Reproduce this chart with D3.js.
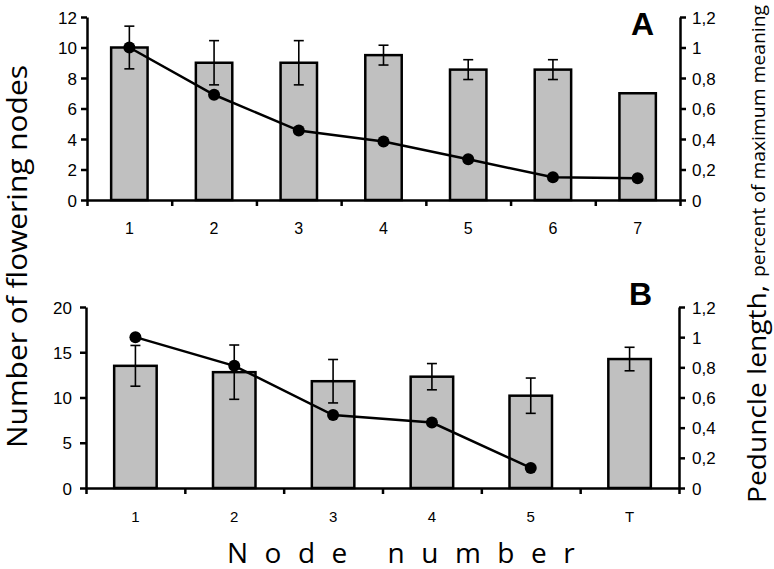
<!DOCTYPE html>
<html>
<head>
<meta charset="utf-8">
<style>
    body { margin: 0; background: #fff; }
    svg { display: block; }
    .tick text { font-family: "Liberation Sans", Arial, sans-serif; }
</style>
</head>
<body>
<svg width="774" height="569"></svg>
<script src="https://d3js.org/d3.v7.min.js"></script>
<script>
    // panel A
    let nodesA = ["1", "2", "3", "4", "5", "6", "7"];
    let barsA = [10.0, 9.0, 9.0, 9.5, 8.55, 8.55, 7.0];
    let errA = [1.4, 1.45, 1.45, 0.65, 0.65, 0.65, null];
    let lineA = [1.0, 0.69, 0.455, 0.383, 0.267, 0.149, 0.142];
    let leftTicksA = [0, 2, 4, 6, 8, 10, 12];

    // panel B
    let nodesB = ["1", "2", "3", "4", "5", "T"];
    let barsB = [13.5, 12.8, 11.8, 12.3, 10.2, 14.25];
    let errB = [2.25, 3.0, 2.4, 1.45, 1.95, 1.3];
    let lineB = [1.0, 0.81, 0.484, 0.434, 0.133];
    let leftTicksB = [0, 5, 10, 15, 20];

    let rightTicks = [0, 0.2, 0.4, 0.6, 0.8, 1, 1.2];

    let svg = d3.select("svg");
    let comma = d3.formatLocale({ decimal: ",", thousands: " ", grouping: [3], currency: ["", ""] }).format("~g");

    function panel(opt) {
        let g = svg.append("g");
        let n = opt.nodes.length;

        let x = d3.scaleBand().domain(opt.nodes).range([opt.x0, opt.x1]);
        let xi = d3.scaleLinear().domain([0, n]).range([opt.x0, opt.x1]);
        let y = d3.scaleLinear().domain([0, opt.ymax]).range([opt.y0, opt.y1]);
        let y2 = d3.scaleLinear().domain([0, 1.2]).range([opt.y0, opt.y1]);
        let bw = x.bandwidth() * 0.43;

        // bars
        g.selectAll(".bar")
            .data(opt.bars)
            .join("rect")
            .attr("x", (d, i) => x(opt.nodes[i]) + (x.bandwidth() - bw) / 2)
            .attr("y", d => y(d))
            .attr("width", bw)
            .attr("height", d => opt.y0 - y(d))
            .style("fill", "#c0c0c0")
            .style("stroke", "#000")
            .style("stroke-width", 2.5);

        // error bars
        let eb = opt.bars.map((d, i) => ({ i: i, v: d, e: opt.err[i] })).filter(d => d.e != null);
        let cx = d => x(opt.nodes[d.i]) + x.bandwidth() / 2;
        let eg = g.selectAll(".err").data(eb).join("g");
        eg.append("line")
            .attr("x1", cx).attr("x2", cx)
            .attr("y1", d => y(d.v + d.e)).attr("y2", d => y(d.v - d.e));
        eg.append("line")
            .attr("x1", d => cx(d) - 5).attr("x2", d => cx(d) + 5)
            .attr("y1", d => y(d.v + d.e)).attr("y2", d => y(d.v + d.e));
        eg.append("line")
            .attr("x1", d => cx(d) - 5).attr("x2", d => cx(d) + 5)
            .attr("y1", d => y(d.v - d.e)).attr("y2", d => y(d.v - d.e));
        eg.selectAll("line").style("stroke", "#000").style("stroke-width", 1.6);

        // line series on right axis
        let lineGen = d3.line()
            .x((d, i) => x(opt.nodes[i]) + x.bandwidth() / 2)
            .y(d => y2(d));
        g.append("path")
            .datum(opt.line)
            .attr("d", lineGen)
            .style("fill", "none")
            .style("stroke", "#000")
            .style("stroke-width", 2.5);
        g.selectAll(".dot")
            .data(opt.line)
            .join("circle")
            .attr("cx", (d, i) => x(opt.nodes[i]) + x.bandwidth() / 2)
            .attr("cy", d => y2(d))
            .attr("r", 6)
            .style("fill", "#000");

        // x axis: ticks on band edges, labels at centers
        let xa = g.append("g")
            .attr("transform", `translate(0,${opt.y0})`)
            .call(d3.axisBottom(xi).tickValues(d3.range(n + 1)).tickFormat("").tickSize(6).tickSizeOuter(0));
        xa.selectAll("path, line").style("stroke", "#000").style("stroke-width", 2.5);

        g.selectAll(".xlab")
            .data(opt.nodes)
            .join("text")
            .attr("x", d => x(d) + x.bandwidth() / 2)
            .attr("y", opt.xlabY)
            .attr("text-anchor", "middle")
            .style("font-family", "'Liberation Sans', Arial, sans-serif")
            .style("font-size", opt.xlabSize + "px")
            .text(d => d);

        // left axis
        let la = g.append("g")
            .attr("transform", `translate(${opt.x0},0)`)
            .call(d3.axisLeft(y).tickValues(opt.leftTicks).tickSize(6).tickSizeOuter(0).tickPadding(opt.lpad));
        la.selectAll("path, line").style("stroke", "#000").style("stroke-width", 2.5);
        la.selectAll("text").style("font-size", "17px").attr("dy", "0.36em");

        // right axis
        let ra = g.append("g")
            .attr("transform", `translate(${opt.x1},0)`)
            .call(d3.axisRight(y2).tickValues(rightTicks).tickFormat(comma).tickSize(6).tickSizeOuter(0).tickPadding(opt.rpad));
        ra.selectAll("path, line").style("stroke", "#000").style("stroke-width", 2.5);
        ra.selectAll("text").style("font-size", "17px").attr("dy", "0.36em");

        // panel letter
        g.append("text")
            .attr("x", opt.letterX)
            .attr("y", opt.letterY)
            .style("font-family", "'Liberation Sans', Arial, sans-serif")
            .style("font-weight", "bold")
            .style("font-size", "32px")
            .text(opt.letter);
    }

    panel({
        nodes: nodesA, bars: barsA, err: errA, line: lineA, leftTicks: leftTicksA, ymax: 12,
        x0: 87, x1: 680, y0: 200, y1: 17, xlabY: 234, xlabSize: 16, lpad: 4, rpad: 6,
        letter: "A", letterX: 631, letterY: 35
    });

    panel({
        nodes: nodesB, bars: barsB, err: errB, line: lineB, leftTicks: leftTicksB, ymax: 20,
        x0: 86, x1: 679, y0: 488, y1: 307, xlabY: 522, xlabSize: 15, lpad: 8, rpad: 7,
        letter: "B", letterX: 629, letterY: 305
    });

    // axis titles
    svg.append("text")
        .attr("transform", "translate(27,448) rotate(-90)")
        .attr("textLength", 383)
        .attr("lengthAdjust", "spacingAndGlyphs")
        .style("font-family", "'Open Sans', sans-serif")
        .style("font-size", "28px")
        .text("Number of flowering nodes");

    svg.append("text")
        .attr("transform", "translate(766,503) rotate(-90)")
        .attr("textLength", 218)
        .attr("lengthAdjust", "spacingAndGlyphs")
        .style("font-family", "'Open Sans', sans-serif")
        .style("font-size", "26px")
        .text("Peduncle length,");

    svg.append("text")
        .attr("transform", "translate(765,277) rotate(-90)")
        .attr("textLength", 272)
        .attr("lengthAdjust", "spacingAndGlyphs")
        .style("font-family", "'Open Sans', sans-serif")
        .style("font-size", "19px")
        .text("percent of maximum meaning");

    svg.append("text")
        .attr("x", 227)
        .attr("y", 563)
        .style("font-family", "'Open Sans', sans-serif")
        .style("font-size", "28px")
        .style("letter-spacing", "16.5px")
        .text("Node number");
</script>
</body>
</html>
